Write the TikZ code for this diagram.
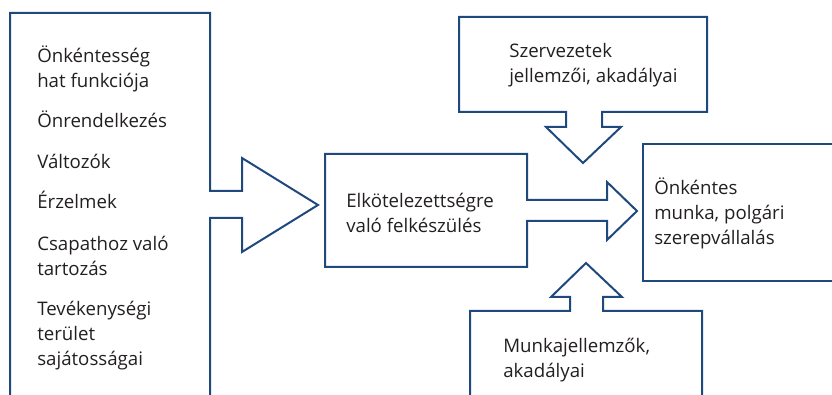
\documentclass[tikz,border=0pt]{standalone}
\usepackage{fontspec}
\setmainfont{Open Sans}
\usetikzlibrary{positioning}
\definecolor{boxblue}{RGB}{31,73,125}
\definecolor{inkgray}{RGB}{35,31,32}
% lines of a label, baseline on the first line
\newcommand{\txtlines}[1]{\begin{tabular}[t]{@{}l@{}}#1\end{tabular}}

\begin{document}
\begin{tikzpicture}[x=0.75pt,y=-0.75pt,
  outline/.style={draw=boxblue,line width=1.5pt,line join=miter},
  label/.style={anchor=base west,inner sep=0pt,text=inkgray,
    font=\fontsize{14}{18.75}\selectfont}]
\useasboundingbox (0,0) rectangle (832,395);
\clip (0,0) rectangle (832,395);

% left column with its arrow to the middle box
\draw[outline] (10,400) -- (10,13) -- (210,13) -- (210,191) -- (242,191) -- (242,158)
  -- (318,205) -- (242,252) -- (242,218) -- (210,218) -- (210,400);
% middle box with its arrow to the right
\draw[outline] (325,154) -- (527,154) -- (527,200) -- (607,200) -- (607,182)
  -- (637,211) -- (607,240) -- (607,221) -- (527,221) -- (527,267) -- (325,267) -- cycle;
% top box pointing down
\draw[outline] (459,17) -- (707,17) -- (707,112) -- (602,112) -- (602,127) -- (621,127)
  -- (583,163) -- (546,127) -- (566,127) -- (566,112) -- (459,112) -- cycle;
% bottom box pointing up
\draw[outline] (470,400) -- (470,311) -- (570,311) -- (570,297) -- (551,297) -- (586,263)
  -- (622,297) -- (603,297) -- (603,311) -- (702,311) -- (702,400);
% right box
\draw[outline] (840,144) -- (643,144) -- (643,281) -- (840,281);

% texts
\node[label] (funkcio) at (37,63) {\txtlines{Önkéntesség\\hat funkciója}};
\node[label] (onrend) at (37,128) {Önrendelkezés};
\node[label] (valtozo) at (37,169) {Változók};
\node[label] (erzelem) at (37,209) {Érzelmek};
\node[label] (csapat) at (37,251) {\txtlines{Csapathoz való\\tartozás}};
\node[label] (terulet) at (37,316) {\txtlines{Tevékenységi\\terület\\sajátosságai}};
\node[label] (felkesz) at (346,208) {\txtlines{Elkötelezettségre\\való felkészülés}};
\node[label] (szerv) at (509,58) {\txtlines{Szervezetek\\jellemzői, akadályai}};
\node[label] (onkent) at (654,195) {\txtlines{Önkéntes\\munka, polgári\\szerepvállalás}};
\node[label] (munka) at (503,353) {\txtlines{Munkajellemzők,\\akadályai}};
\end{tikzpicture}
\end{document}
